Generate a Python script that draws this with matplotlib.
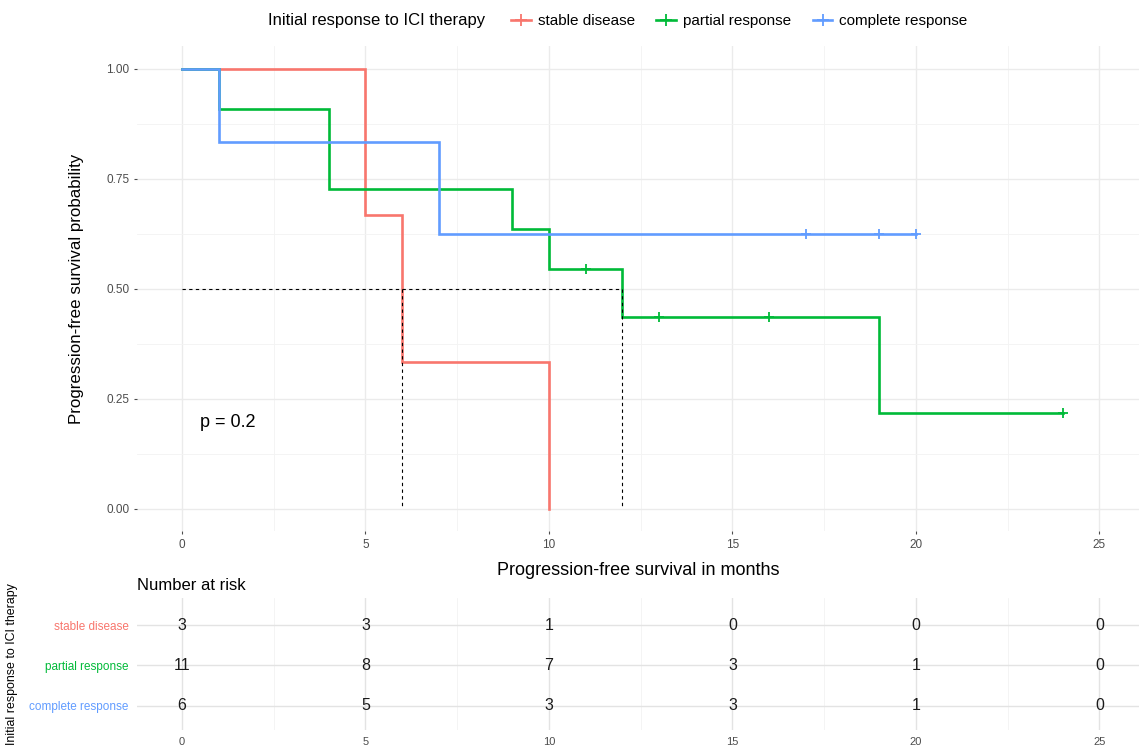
import matplotlib
matplotlib.use("Agg")
import matplotlib.pyplot as plt
from matplotlib.ticker import MultipleLocator
from matplotlib.lines import Line2D

plt.rcParams['font.family'] = ['Liberation Sans', 'DejaVu Sans']

# ---- data ----
groups = ["stable disease", "partial response", "complete response"]
colors = ["#F8766D", "#00BA38", "#619CFF"]

sd_time = [0, 5, 6, 10]
sd_surv = [1.0, 0.667, 0.333, 0.0]
sd_cens_t = []
sd_cens_s = []

pr_time = [0, 1, 4, 9, 10, 12, 19, 24]
pr_surv = [1.0, 0.909, 0.727, 0.636, 0.545, 0.436, 0.218, 0.218]
pr_cens_t = [11, 13, 16, 24]
pr_cens_s = [0.545, 0.436, 0.436, 0.218]

cr_time = [0, 1, 7, 20]
cr_surv = [1.0, 0.833, 0.625, 0.625]
cr_cens_t = [17, 19, 20]
cr_cens_s = [0.625, 0.625, 0.625]

median_times = [6, 12]
p_label = "p = 0.2"

risk_times = [0, 5, 10, 15, 20, 25]
risk_sd = [3, 3, 1, 0, 0, 0]
risk_pr = [11, 8, 7, 3, 1, 0]
risk_cr = [6, 5, 3, 3, 1, 0]

x_ticks = [0, 5, 10, 15, 20, 25]
y_ticks = [0.0, 0.25, 0.5, 0.75, 1.0]

# ---- figure ----
W, H = 1139, 749
fig = plt.figure(figsize=(W / 100, H / 100), dpi=100)

def fx(px):
    return px / W

def fy(py):
    return 1 - py / H

XL = (-1.226, 26.08)
grid_major = "#EBEBEB"
grid_minor = "#F3F3F3"
tick_col = "#4D4D4D"

ax = fig.add_axes([fx(137), fy(531), fx(1139) - fx(137), fy(46) - fy(531)])
ax.set_xlim(*XL)
ax.set_ylim(-0.05, 1.052)
for s in ax.spines.values():
    s.set_visible(False)
ax.set_xticks(x_ticks)
ax.set_yticks(y_ticks)
ax.set_yticklabels([f"{v:.2f}" for v in y_ticks])
ax.xaxis.set_minor_locator(MultipleLocator(2.5))
ax.yaxis.set_minor_locator(MultipleLocator(0.125))
ax.grid(which="major", color=grid_major, lw=1.0)
ax.grid(which="minor", color=grid_minor, lw=0.6)
ax.set_axisbelow(True)
ax.tick_params(which="major", length=2.5, width=0.8, color=tick_col,
               labelcolor=tick_col, labelsize=8.5, pad=3)
ax.tick_params(which="minor", length=0)

series = [
    (sd_time, sd_surv, sd_cens_t, sd_cens_s),
    (pr_time, pr_surv, pr_cens_t, pr_cens_s),
    (cr_time, cr_surv, cr_cens_t, cr_cens_s),
]
for (t, s, ct, cs), c in zip(series, colors):
    ax.step(t, s, where="post", color=c, lw=1.9, solid_joinstyle="miter")
    if ct:
        ax.plot(ct, cs, ls="none", marker="+", ms=7, mew=1.3, color=c)

# median lines
mx = max(median_times)
ax.plot([0, mx], [0.5, 0.5], ls=(0, (3, 3)), color="black", lw=0.8)
for m in median_times:
    ax.plot([m, m], [0.5, 0.0], ls=(0, (3, 3)), color="black", lw=0.8)

ax.text(0.5, 0.197, p_label, fontsize=13, ha="left", va="center", color="black")

ax.set_xlabel("Progression-free survival in months", fontsize=13, labelpad=8)
ax.set_ylabel("Progression-free survival probability", fontsize=12.2, labelpad=16)

# legend
handles = [Line2D([], [], color=c, lw=1.9, marker="+", ms=8, mew=1.3) for c in colors]
fig.text(fx(268), fy(21), "Initial response to ICI therapy", fontsize=12,
         ha="left", va="center")
fig.legend(handles, groups, loc="center left", bbox_to_anchor=(fx(505), fy(21)),
           ncol=3, frameon=False, fontsize=11, handlelength=1.3,
           handletextpad=0.45, columnspacing=1.4, borderaxespad=0)

# ---- risk table ----
rax = fig.add_axes([fx(137), fy(730), fx(1139) - fx(137), fy(598) - fy(730)])
rax.set_xlim(*XL)
rax.set_ylim(0.407, 3.667)
for s in rax.spines.values():
    s.set_visible(False)
rax.set_xticks(x_ticks)
rax.xaxis.set_minor_locator(MultipleLocator(2.5))
rax.set_yticks([3, 2, 1])
rax.set_yticklabels(groups)
for lab, c in zip(rax.get_yticklabels(), colors):
    lab.set_color(c)
rax.grid(which="major", color="#E3E3E3", lw=1.0)
rax.grid(which="minor", axis="x", color=grid_minor, lw=0.6)
rax.set_axisbelow(True)
rax.tick_params(axis="y", length=0, labelsize=8.5, pad=6)
rax.tick_params(axis="x", length=0, labelsize=8, labelcolor=tick_col, pad=5)
rax.tick_params(which="minor", length=0)

for row, y in zip([risk_sd, risk_pr, risk_cr], [3, 2, 1]):
    for t, n in zip(risk_times, row):
        rax.text(t, y, str(n), fontsize=11.5, ha="center", va="center", color="#1A1A1A")

fig.text(fx(137), fy(585), "Number at risk", fontsize=12, ha="left", va="center")
fig.text(fx(12), fy(664), "Initial response to ICI therapy", fontsize=8.9,
         rotation=90, ha="center", va="center")

fig.savefig("out.png", dpi=100)
